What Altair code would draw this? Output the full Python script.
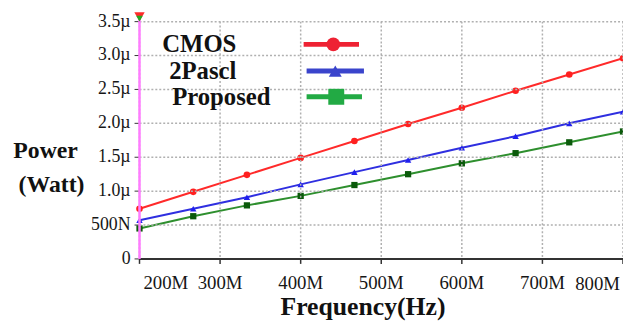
import altair as alt
import pandas as pd

# ---- data (frequency in MHz, power in µW) ----
freq = [200, 266.7, 333.3, 400, 466.7, 533.3, 600, 666.7, 733.3, 800]
cmos = [0.74, 0.99, 1.24, 1.49, 1.74, 1.99, 2.23, 2.48, 2.72, 2.96]
pascl = [0.57, 0.74, 0.91, 1.10, 1.28, 1.46, 1.64, 1.81, 2.00, 2.17]
proposed = [0.45, 0.63, 0.79, 0.93, 1.09, 1.25, 1.41, 1.56, 1.72, 1.88]
series_names = ["CMOS", "2Pascl", "Proposed"]
x_ticks = [200, 300, 400, 500, 600, 700, 800]
x_labels = ["200M", "300M", "400M", "500M", "600M", "700M", "800M"]
y_ticks = [0, 0.5, 1.0, 1.5, 2.0, 2.5, 3.0, 3.5]
y_labels = ["0", "500N", "1.0µ", "1.5µ", "2.0µ", "2.5µ", "3.0µ", "3.5µ"]
y_grid = [0.5, 1.0, 1.5, 2.0, 2.5, 3.0, 3.5]
x_title = "Frequency(Hz)"
y_title = ["Power", "(Watt)"]

# ---- styles ----
line_colors = ["#ff2a2a", "#2f2fe0", "#2e8f2e"]
marker_colors = ["#ff2020", "#2020ee", "#0b5a0b"]
shapes = ["circle", "triangle-up", "square"]
legend_colors = ["#ee2233", "#3a44cc", "#22aa44"]
SERIF = "'Liberation Serif', 'Tinos', 'DejaVu Serif', 'Noto Serif', serif"
TXT = "#161616"
W, H = 489, 240

rows = []
for name, vals in zip(series_names, [cmos, pascl, proposed]):
    for f, v in zip(freq, vals):
        rows.append({"freq": f, "power": v, "series": name})
df = pd.DataFrame(rows)

xscale = alt.Scale(domain=[200, 800], nice=False, zero=False)
yscale = alt.Scale(domain=[0, 3.5], nice=False)
X = lambda f: alt.X(f, scale=xscale, axis=None)
Y = lambda f: alt.Y(f, scale=yscale, axis=None)
XD = lambda v: alt.X(datum=v, scale=xscale, axis=None)
YD = lambda v: alt.Y(datum=v, scale=yscale, axis=None)

xt = pd.DataFrame({"gx": x_ticks, "label": x_labels})
yt = pd.DataFrame({"gy": y_ticks, "label": y_labels})
one = pd.DataFrame({"k": [0]})

# ---- dotted grid + tick marks (one rule per tick value, through the scales) ----
grid_layers = []
for v in x_ticks:
    grid_layers.append(
        alt.Chart(one).mark_rule(color="#b0b0b0", strokeWidth=1.5, strokeDash=[2, 2]).encode(
            x=XD(v), y=alt.value(0), y2=alt.value(H)
        )
    )
    grid_layers.append(
        alt.Chart(one).mark_rule(color="#333333", strokeWidth=1.5).encode(
            x=XD(v), y=alt.value(H), y2=alt.value(H + 5)
        )
    )
for v in y_grid:
    grid_layers.append(
        alt.Chart(one).mark_rule(color="#b0b0b0", strokeWidth=1.5, strokeDash=[2, 2]).encode(
            y=YD(v), x=alt.value(0), x2=alt.value(W)
        )
    )
for v in y_ticks:
    grid_layers.append(
        alt.Chart(one).mark_rule(color="#333333", strokeWidth=1).encode(
            y=YD(v), x=alt.value(-5), x2=alt.value(0)
        )
    )

x_domain = alt.Chart(one).mark_rule(color="#333333", strokeWidth=2).encode(
    x=alt.value(0), x2=alt.value(W), y=YD(0)
)

# ---- axis labels & titles ----
xlab_style = dict(font=SERIF, fontSize=19, color=TXT, baseline="alphabetic")
x_lab_first = alt.Chart(xt.iloc[:1]).mark_text(align="left", dx=4, **xlab_style).encode(
    x=X("gx:Q"), y=alt.value(H + 30), text="label:N"
)
x_lab_mid = alt.Chart(xt.iloc[1:-1]).mark_text(align="center", **xlab_style).encode(
    x=X("gx:Q"), y=alt.value(H + 30), text="label:N"
)
x_lab_last = alt.Chart(xt.iloc[-1:]).mark_text(align="right", dx=-3, **xlab_style).encode(
    x=X("gx:Q"), y=alt.value(H + 31), text="label:N"
)
y_lab = alt.Chart(yt).mark_text(
    font=SERIF, fontSize=18, color=TXT, align="right", baseline="middle", dx=-9
).encode(y=Y("gy:Q"), x=alt.value(0), text="label:N")

title_style = dict(font=SERIF, fontWeight="bold", color="#111111", baseline="alphabetic", align="center")
x_title_mark = alt.Chart(pd.DataFrame({"t": [x_title]})).mark_text(fontSize=26, **title_style).encode(
    text="t:N", x=alt.value(226), y=alt.value(297)
)
y_title_marks = [
    alt.Chart(pd.DataFrame({"t": [t]})).mark_text(fontSize=24, **title_style).encode(
        text="t:N", x=alt.value(xx), y=alt.value(yy)
    )
    for t, xx, yy in zip(y_title, [-95, -89], [138, 172])
]

# ---- data series ----
base = alt.Chart(df)
lines = base.mark_line(strokeWidth=2).encode(
    x=X("freq:Q"),
    y=Y("power:Q"),
    color=alt.Color("series:N", scale=alt.Scale(domain=series_names, range=line_colors), legend=None),
)
points = base.mark_point(filled=True, opacity=1, strokeWidth=0).encode(
    x=X("freq:Q"),
    y=Y("power:Q"),
    fill=alt.Fill("series:N", scale=alt.Scale(domain=series_names, range=marker_colors), legend=None),
    shape=alt.Shape("series:N", scale=alt.Scale(domain=series_names, range=shapes), legend=None),
    size=alt.Size("series:N", scale=alt.Scale(domain=series_names, range=[45, 40, 30]), legend=None),
)

# ---- cursor line ----
cursor = alt.Chart(one).mark_rule(color="#ff7cff", strokeWidth=2.5).encode(
    x=XD(200), y=alt.value(-8), y2=alt.value(H)
)
cursor_top_red = alt.Chart(one).mark_point(
    shape="triangle-down", filled=True, color="#ff2a2a", size=110, opacity=1
).encode(x=XD(200), y=alt.value(-5))
cursor_top_green = alt.Chart(one).mark_point(
    shape="triangle-down", filled=True, color="#22aa22", size=45, opacity=1
).encode(x=XD(200), y=alt.value(-3))

# ---- custom legend (text left, symbol right) ----
legend_text_x = [23, 30, 33]
legend_text_y = [31, 58, 84]
legend_line_x = [(166, 222), (169, 227), (169, 225)]
legend_line_y = [23, 50, 76]
legend_mark_x = [196, 198, 199]
legend_mark_size = [190, 170, 260]

legend_layers = []
for i, name in enumerate(series_names):
    d = pd.DataFrame({"name": [name]})
    legend_layers.append(
        alt.Chart(d).mark_text(
            font=SERIF, fontSize=25, fontWeight="bold", color="#111111",
            align="left", baseline="alphabetic",
        ).encode(text="name:N", x=alt.value(legend_text_x[i]), y=alt.value(legend_text_y[i]))
    )
    legend_layers.append(
        alt.Chart(d).mark_rule(color=legend_colors[i], strokeWidth=5).encode(
            x=alt.value(legend_line_x[i][0]), x2=alt.value(legend_line_x[i][1]),
            y=alt.value(legend_line_y[i]),
        )
    )
    legend_layers.append(
        alt.Chart(d).mark_point(
            shape=shapes[i], filled=True, color=legend_colors[i],
            size=legend_mark_size[i], opacity=1,
        ).encode(x=alt.value(legend_mark_x[i]), y=alt.value(legend_line_y[i]))
    )

chart = alt.layer(
    x_lab_first, x_lab_mid, x_lab_last, y_lab, x_title_mark, *y_title_marks,
    lines, points, *grid_layers, x_domain,
    cursor, cursor_top_red, cursor_top_green, *legend_layers
).properties(
    width=W,
    height=H,
    autosize=alt.AutoSizeParams(type="none"),
    padding={"left": 133, "top": 12, "right": 0, "bottom": 63},
    background="white",
).configure_view(stroke=None)

chart.save("out.html", embed_options={"renderer": "svg", "actions": False})
